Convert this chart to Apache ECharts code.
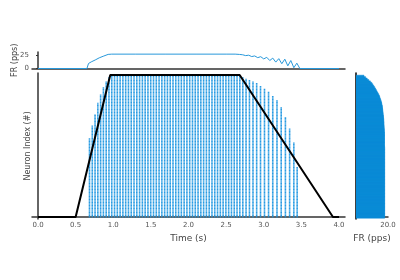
<!DOCTYPE html>
<html>
<head>
<meta charset="utf-8">
<script src="https://cdn.jsdelivr.net/npm/echarts@6/dist/echarts.min.js"></script>
<style>html,body{margin:0;padding:0;background:#fff}#c{width:400px;height:280px}</style>
</head>
<body>
<div id="c"></div>
<script>
// ---- data ----
const timeTicks = [0, 0.5, 1.0, 1.5, 2.0, 2.5, 3.0, 3.5, 4.0];
const frTicks = [0, 25];
const histTicks = [20];

// stimulus trapezoid (time s, scaled to neuron index)
const stimT = [0, 0.5, 0.96, 2.68, 3.92, 4.0];
const stimV = [0, 0, 100, 100, 0, 0];

// population firing rate (top panel)
const frT = [0, 0.65, 0.671, 0.687, 0.707, 0.727, 0.76, 0.78, 0.813, 0.833, 0.866, 0.886, 0.932, 0.98, 1.3, 1.7, 2.1, 2.5, 2.62,
             2.68, 2.72, 2.76, 2.80, 2.84, 2.88, 2.92, 2.96, 3.00, 3.04, 3.08, 3.12, 3.16, 3.20, 3.24, 3.28, 3.32, 3.36, 3.40, 3.44, 3.48, 4.0];
const frV = [0, 0, 9.4, 6.2, 12.4, 10.0, 16.0, 13.7, 20.0, 18.0, 23.0, 22.5, 26.5, 27.0, 27.0, 27.0, 27.0, 27.0, 27.0,
             26.4, 25.8, 24.2, 25.0, 22.4, 23.6, 20.4, 22.2, 18.0, 21.0, 15.0, 19.5, 12.0, 18.5, 9.0, 17.5, 5.0, 15.0, 1.5, 10.0, 0, 0];

// raster: spike columns (time) and highest neuron index firing in each column
const colTimes = [0.684, 0.721, 0.758, 0.795, 0.832, 0.869, 0.906, 0.943,
  0.980, 1.017, 1.054, 1.091, 1.128, 1.165, 1.202, 1.239, 1.276, 1.313,
  1.350, 1.387, 1.424, 1.461, 1.498, 1.535, 1.572, 1.609, 1.646, 1.683,
  1.720, 1.757, 1.794, 1.831, 1.868, 1.905, 1.942, 1.979, 2.016, 2.053,
  2.090, 2.127, 2.164, 2.201, 2.238, 2.275, 2.312, 2.349, 2.386, 2.423,
  2.460, 2.497, 2.534, 2.571, 2.608, 2.645,
  2.682, 2.722, 2.765, 2.810, 2.857, 2.906, 2.957, 3.010, 3.064, 3.120, 3.176, 3.232, 3.288, 3.344, 3.400, 3.444];
const colTops = [55, 64, 72, 80, 86, 91, 95, 98,
  99, 99, 99, 99, 99, 99, 99, 99, 99, 99,
  99, 99, 99, 99, 99, 99, 99, 99, 99, 99,
  99, 99, 99, 99, 99, 99, 99, 99, 99, 99,
  99, 99, 99, 99, 99, 99, 99, 99, 99, 99,
  99, 99, 99, 99, 99, 99,
  99, 98, 97, 96, 95, 94, 92, 90, 88, 85, 82, 77, 70, 62, 52, 35];

// per-neuron firing rate (right panel), neuron 0..99
const neuronFR = [
  17.9, 17.9, 17.9, 17.9, 17.9, 17.9, 17.9, 17.9, 17.9, 17.9,
  17.9, 17.9, 17.9, 17.9, 17.9, 17.9, 17.9, 17.9, 17.9, 17.9,
  17.9, 17.9, 17.9, 17.9, 17.9, 17.9, 17.9, 17.9, 17.9, 17.9,
  17.9, 17.9, 17.9, 17.9, 17.9, 17.9, 17.9, 17.9, 17.9, 17.9,
  17.9, 17.9, 17.9, 17.9, 17.9, 17.9, 17.9, 17.9, 17.9, 17.9,
  17.8, 17.8, 17.8, 17.8, 17.8, 17.8, 17.8, 17.8, 17.8, 17.8,
  17.7, 17.7, 17.6, 17.6, 17.5, 17.5, 17.4, 17.4, 17.3, 17.3,
  17.2, 17.1, 17.0, 16.9, 16.8, 16.7, 16.6, 16.5, 16.4, 16.2,
  16.0, 15.8, 15.5, 15.2, 14.9, 14.6, 14.2, 13.7, 13.2, 12.7,
  12.2, 11.7, 11.1, 10.5, 9.9, 9.0, 8.0, 7.0, 6.0, 5.0];

// ---- chart ----
const FONT = 'DejaVu Sans';
const spine = {show: true, lineStyle: {color: '#333', width: 1.5}};
const chart = echarts.init(document.getElementById('c'), null, {renderer: 'canvas'});

const frData = frT.map((t, i) => [t, frV[i]]);
const stimData = stimT.map((t, i) => [t, stimV[i]]);
const rasterData = colTimes.map((t, i) => [t, colTops[i]]);
const histData = neuronFR.map((v, i) => [v, i]);

chart.setOption({
  animation: false,
  textStyle: {fontFamily: FONT},
  grid: [
    {left: 32, top: 52, width: 313, height: 16.5},
    {left: 32, top: 73, width: 313, height: 146},
    {left: 356, top: 73, width: 32, height: 146}
  ],
  xAxis: [
    {gridIndex: 0, type: 'value', min: -0.08, max: 4.08, axisLine: spine, axisTick: {show: false},
     axisLabel: {show: false}, splitLine: {show: false}},
    {gridIndex: 1, type: 'value', min: -0.08, max: 4.08, axisLine: spine, axisTick: {show: false},
     axisLabel: {show: true, customValues: timeTicks, formatter: v => v.toFixed(1), fontSize: 7, color: '#555', margin: 3, fontFamily: FONT},
     splitLine: {show: false},
     name: 'Time (s)', nameLocation: 'middle', nameGap: 14, nameTextStyle: {fontSize: 9, color: '#444', fontFamily: FONT}},
    {gridIndex: 2, type: 'value', min: 0, max: 20, axisLine: spine, axisTick: {show: false},
     axisLabel: {show: true, customValues: histTicks, formatter: v => v.toFixed(1), fontSize: 7, color: '#555', margin: 3, fontFamily: FONT},
     splitLine: {show: false},
     name: 'FR (pps)', nameLocation: 'middle', nameGap: 14, nameTextStyle: {fontSize: 9, color: '#444', fontFamily: FONT}}
  ],
  yAxis: [
    {gridIndex: 0, type: 'value', min: 0, max: 31, axisLine: spine,
     axisTick: {show: true, customValues: frTicks, length: 2, lineStyle: {color: '#333'}},
     axisLabel: {show: true, customValues: frTicks, fontSize: 7, color: '#555', margin: 3, fontFamily: FONT},
     splitLine: {show: false}, nameMoveOverlap: false,
     name: 'FR (pps)', nameLocation: 'middle', nameGap: 13, nameTextStyle: {fontSize: 8, color: '#444', fontFamily: FONT}},
    {gridIndex: 1, type: 'value', min: -1.4, max: 101.4, axisLine: spine, axisTick: {show: false},
     axisLabel: {show: false}, splitLine: {show: false},
     name: 'Neuron Index (#)', nameLocation: 'middle', nameGap: 0, nameTextStyle: {fontSize: 8, color: '#444', fontFamily: FONT}},
    {gridIndex: 2, type: 'value', min: -1.4, max: 101.4, axisLine: {show: true, lineStyle: {color: '#000', width: 1.5}},
     axisTick: {show: false}, axisLabel: {show: false}, splitLine: {show: false}}
  ],
  series: [
    {type: 'line', xAxisIndex: 0, yAxisIndex: 0, data: frData, symbol: 'none',
     lineStyle: {color: '#2898da', width: 1}, z: 5},
    {type: 'custom', xAxisIndex: 1, yAxisIndex: 1, data: rasterData, clip: true,
     renderItem: function (params, api) {
       const t = api.value(0), top = api.value(1);
       const p0 = api.coord([t, -0.4]);
       const p1 = api.coord([t, top + 0.4]);
       return {type: 'line', shape: {x1: p0[0], y1: p0[1], x2: p1[0], y2: p1[1]},
               style: {stroke: '#1d96e0', lineWidth: 1.6, lineDash: [1.2, 0.25], opacity: 0.95}};
     }, z: 2},
    {type: 'line', xAxisIndex: 1, yAxisIndex: 1, data: stimData, symbol: 'none',
     lineStyle: {color: '#000', width: 2}, z: 6},
    {type: 'custom', xAxisIndex: 2, yAxisIndex: 2, data: histData, clip: true,
     renderItem: function (params, api) {
       const v = api.value(0), i = api.value(1);
       const a = api.coord([0, i + 0.5]);
       const b = api.coord([v, i - 0.5]);
       return {type: 'rect', shape: {x: a[0], y: a[1] - 0.5, width: b[0] - a[0], height: b[1] - a[1] + 1},
               style: {fill: '#0a8bd6', stroke: '#0a8bd6', lineWidth: 0.5}};
     }, z: 2}
  ]
});
</script>
</body>
</html>
